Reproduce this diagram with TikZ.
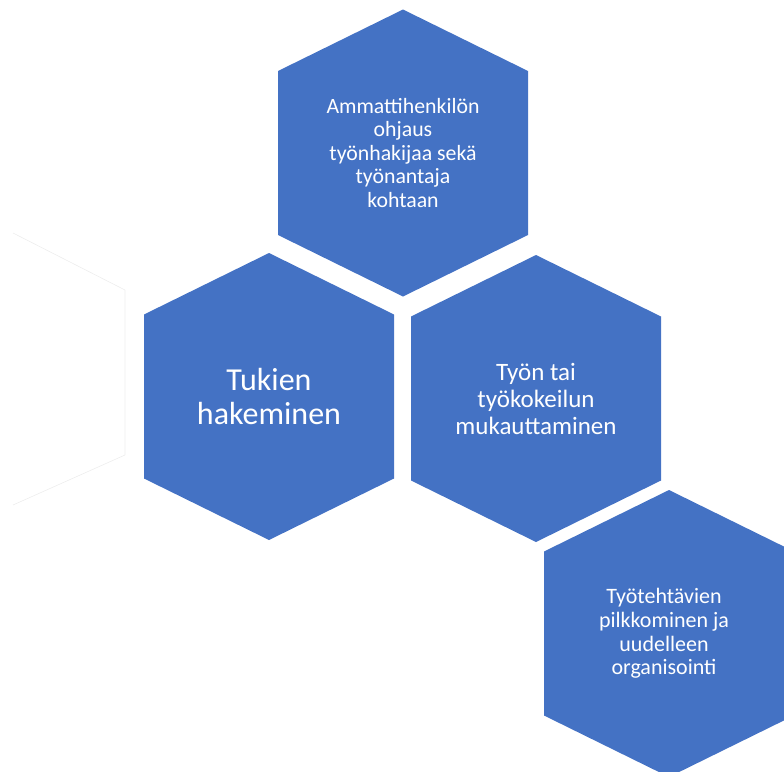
\documentclass[tikz,border=0pt]{standalone}
\usepackage{fontspec}
\setmainfont{Carlito}
\begin{document}
\begin{tikzpicture}[x=1pt,y=-1pt,
  hexfill/.style={fill=hexblue},
  hexlabel/.style={text=white, align=center, inner sep=0pt},
  ghost/.style={draw=black!7, line width=0.6pt}
]
\definecolor{hexblue}{HTML}{4472C4}
\useasboundingbox (0,0) rectangle (784,771);
\clip (0,0) rectangle (784,771);

% hexagon outline relative to a centre: width 250, height 287
\newcommand\hexat[1]{(#1) ++(0,-143.5) -- ++(125,61.5) -- ++(0,164) -- ++(-125,61.5) -- ++(-125,-61.5) -- ++(0,-164) -- cycle}

\coordinate (c1) at (403,153);
\coordinate (c2) at (269,396.5);
\coordinate (c3) at (536,398.5);
\coordinate (c4) at (669,633.5);

% faint outline at the left edge
\coordinate (g1) at (13,233);
\coordinate (g2) at (125,290);
\coordinate (g3) at (125,455);
\coordinate (g4) at (13,505);
\draw[ghost] (g1) -- (g2) -- (g3) -- (g4);

\fill[hexfill] \hexat{c1};
\fill[hexfill] \hexat{c2};
\fill[hexfill] \hexat{c3};
\fill[hexfill] \hexat{c4};

\node[hexlabel, font=\fontsize{21.8}{23.5}\selectfont] (h1) at (c1)
  {Ammattihenkilön\\ohjaus\\työnhakijaa sekä\\työnantaja\\kohtaan};
\node[hexlabel, font=\fontsize{32}{34.7}\selectfont] (h2) at (c2)
  {Tukien\\hakeminen};
\node[hexlabel, font=\fontsize{25}{27}\selectfont] (h3) at (c3)
  {Työn tai\\työkokeilun\\mukauttaminen};
\node[hexlabel, font=\fontsize{22}{23.7}\selectfont] (h4) at ([xshift=-5pt]c4)
  {Työtehtävien\\pilkkominen ja\\uudelleen\\organisointi};
\end{tikzpicture}
\end{document}
